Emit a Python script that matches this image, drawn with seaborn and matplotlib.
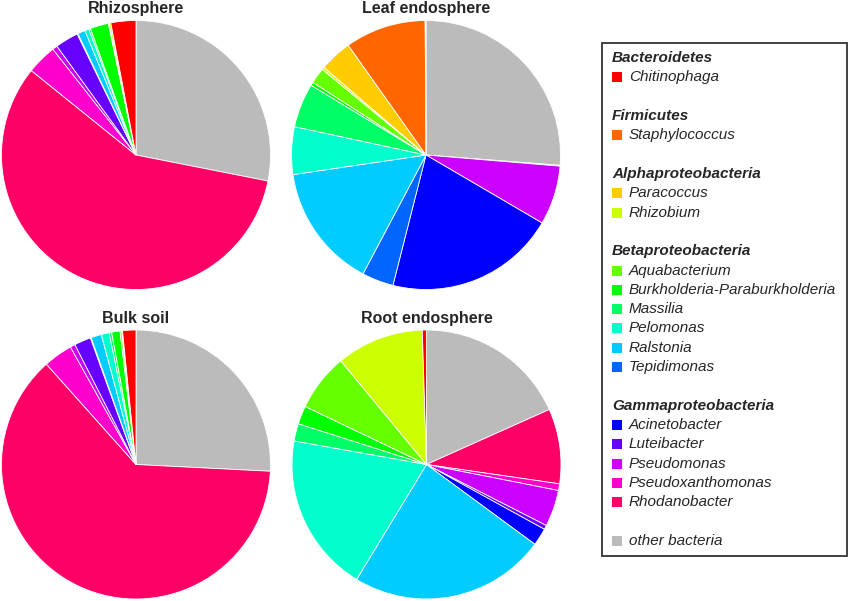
import matplotlib
matplotlib.use("Agg")
import matplotlib.pyplot as plt
from matplotlib.patches import Rectangle
import seaborn as sns

# Genera in legend order (top to bottom)
genera = ["Chitinophaga", "Staphylococcus", "Paracoccus", "Rhizobium",
          "Aquabacterium", "Burkholderia-Paraburkholderia", "Massilia",
          "Pelomonas", "Ralstonia", "Tepidimonas", "Acinetobacter",
          "Luteibacter", "Pseudomonas", "Pseudoxanthomonas", "Rhodanobacter",
          "other bacteria"]
colors = ["#FF0000", "#FF6600", "#FFCC00", "#CCFF00", "#66FF00", "#00FF00",
          "#00FF66", "#00FFCC", "#00CCFF", "#0066FF", "#0000FF", "#6600FF",
          "#CC00FF", "#FF00CC", "#FF0066", "#BBBBBB"]
groups = ["Bacteroidetes", "Firmicutes", "Alphaproteobacteria",
          "Betaproteobacteria", "Gammaproteobacteria", None]
group_members = [1, 1, 2, 6, 5, 1]

# relative abundance (%) per sample, same order as genera
rhizosphere = [3.0, 0, 0, 0.2, 0.1, 2.2, 0.2, 0.5, 0.9, 0, 0.1, 2.8, 0.6, 3.6, 57.7, 28.1]
leaf_endo = [0.1, 9.7, 3.9, 0.3, 1.9, 0.4, 5.3, 5.7, 14.9, 3.8, 20.5, 0, 7.1, 0, 0.1, 26.2]
bulk_soil = [1.6, 0, 0, 0.1, 0.2, 1.0, 0.3, 0.95, 1.25, 0, 0.1, 2.0, 0.6, 3.5, 62.6, 25.8]
root_endo = [0.5, 0, 0, 10.5, 6.9, 2.2, 2.1, 19.1, 23.6, 0, 2.1, 0.5, 4.4, 0.8, 9.0, 18.3]

samples = ["Rhizosphere", "Leaf endosphere", "Bulk soil", "Root endosphere"]
values = [rhizosphere, leaf_endo, bulk_soil, root_endo]

sns.set_theme(style="white")
plt.rcParams['font.family'] = ['Liberation Sans', 'DejaVu Sans']

W, H = 850, 601
fig = plt.figure(figsize=(8.5, 6.01), dpi=100)

# pie centres in pixels
centres = [(136, 155), (426, 155), (136, 464.5), (426.5, 464.5)]
r = 134.5
for name, vals, (cx, cy) in zip(samples, values, centres):
    ax = fig.add_axes([(cx - r) / W, (H - cy - r) / H, 2 * r / W, 2 * r / H])
    # pie goes clockwise from top, starting with "other bacteria"
    v = [x for x in vals[::-1] if x > 0]
    c = [col for x, col in zip(vals[::-1], colors[::-1]) if x > 0]
    ax.pie(v, colors=c, startangle=90, counterclock=False, radius=1,
           wedgeprops=dict(edgecolor="white", linewidth=0.6))
    ax.set_xlim(-1, 1)
    ax.set_ylim(-1, 1)
    ax.set_aspect("equal")
    fig.text(cx / W, 1 - (cy - r - 11.5) / H, name, ha="center", va="center",
             fontsize=11.5, fontweight="bold")

# legend drawn in pixel coordinates
lax = fig.add_axes([0, 0, 1, 1])
lax.set_xlim(0, W)
lax.set_ylim(H, 0)
lax.axis("off")
lax.add_patch(Rectangle((602.5, 43), 245, 513, fill=False,
                        edgecolor="#333333", linewidth=1.3))

y0, step = 58, 19.32
row = 0
k = 0
for g, n in zip(groups, group_members):
    if g is not None:
        lax.text(612, y0 + row * step, g, fontsize=11, fontweight="bold",
                 fontstyle="italic", va="center", ha="left")
        row += 1
    for i in range(n):
        y = y0 + row * step
        lax.add_patch(Rectangle((612, y - 5), 10, 10, facecolor=colors[k],
                                edgecolor="none"))
        lax.text(629, y, genera[k], fontsize=11, fontstyle="italic",
                 va="center", ha="left")
        k += 1
        row += 1
    row += 1

fig.savefig("out.png", dpi=100)
